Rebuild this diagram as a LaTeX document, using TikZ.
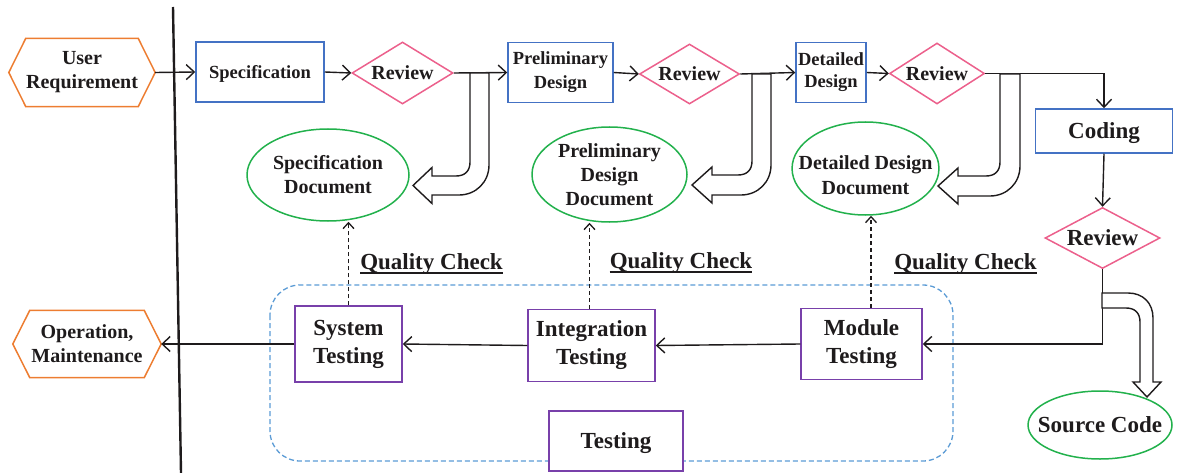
\documentclass[tikz,border=0pt]{standalone}
\usepackage{fontspec}
\setmainfont{Liberation Serif}
\usetikzlibrary{shapes.geometric,arrows.meta,calc}
\definecolor{ocol}{RGB}{237,125,49}
\definecolor{bcol}{RGB}{68,114,196}
\definecolor{pcol}{RGB}{236,96,140}
\definecolor{gcol}{RGB}{34,177,76}
\definecolor{vcol}{RGB}{120,64,170}
\definecolor{dcol}{RGB}{91,155,213}
\definecolor{txt}{RGB}{30,27,28}
\newcommand\hollowarrow[7]{% xi xo ytop yi yo xb xt
  \draw[hollow] (#1,#3) -- (#1,{#4-14}) .. controls (#1,{#4-5}) and ({#1-5},#4) .. ({#1-14},#4)
    -- (#6,#4) -- (#6,{(#4+#5)/2-18}) -- (#7,{(#4+#5)/2}) -- (#6,{(#4+#5)/2+18}) -- (#6,#5)
    -- ({#2-30},#5) .. controls ({#2-13},#5) and (#2,{#5-13}) .. (#2,{#5-30}) -- (#2,#3) -- cycle;}
\tikzset{
  fsz/.style 2 args={font=\bfseries\fontsize{#1}{#2}\selectfont},
  every node/.style={text=txt},
  oneline/.style={text depth=0pt},
  procbox/.style={rectangle, draw=bcol, line width=1.5pt, align=center, inner sep=1pt},
  revd/.style={diamond, draw=pcol, line width=1.5pt, aspect=1.6, inner sep=0pt, fill=white, oneline},
  docell/.style={ellipse, draw=gcol, line width=1.5pt, align=center, inner xsep=-15pt, inner ysep=-6pt},
  testbox/.style={rectangle, draw=vcol, line width=1.5pt, fill=white, align=center, inner sep=1pt},
  hexn/.style={align=center, inner sep=0pt},
  hexline/.style={draw=ocol, line width=1.5pt},
  flow/.style={draw=txt, line width=1.4pt, -{Straight Barb[length=8pt,width=15pt,line width=1.4pt]}},
  qflow/.style={draw=txt, line width=1.3pt, dash pattern=on 4pt off 3pt, -{Straight Barb[length=6pt,width=11pt,line width=1.3pt]}},
  hollow/.style={draw=txt, line width=1.4pt, fill=white, line join=miter},
  qc/.style={fsz={23}{27}, inner sep=0pt, anchor=base},
}
\begin{document}
\begin{tikzpicture}[x=1pt,y=-1pt]
\useasboundingbox (0,0) rectangle (1177,473);
% divider
\coordinate (dtop) at (173,7);
\coordinate (dbot) at (181,473);
\draw[line width=2.4pt, draw=txt] (dtop) -- (dbot);
% testing group
\draw[draw=dcol, line width=1.3pt, dash pattern=on 5pt off 3pt, rounded corners=30pt] (270,285) rectangle (953,461);
% top row
\node[hexn, fsz={20}{24}, minimum width=146pt, minimum height=68pt] (ur) at (82,72.5) {User\\Requirement};
\draw[hexline] (ur.west) -- ([xshift=17pt]ur.north west) -- ([xshift=-17pt]ur.north east) -- (ur.east)
  -- ([xshift=-17pt]ur.south east) -- ([xshift=17pt]ur.south west) -- cycle;
\node[procbox, oneline, fsz={18.5}{23}, minimum width=128pt, minimum height=60pt] (spec) at (260,72) {Specification};
\node[revd, fsz={20}{24}, minimum width=101pt, minimum height=62pt] (r1) at (402.5,73) {Review};
\node[procbox, fsz={18.5}{24}, minimum width=105pt, minimum height=60pt] (pd) at (560.5,72.5) {Preliminary\\Design};
\node[revd, fsz={20}{24}, minimum width=100pt, minimum height=60pt] (r2) at (689.5,74) {Review};
\node[procbox, fsz={18.5}{22}, minimum width=70pt, minimum height=60pt] (dd) at (831,72.5) {Detailed\\Design};
\node[revd, fsz={20}{24}, minimum width=95pt, minimum height=61pt] (r3) at (937,73.5) {Review};
\node[procbox, oneline, fsz={23}{27}, minimum width=137pt, minimum height=44pt] (coding) at (1104,131) {Coding};
\node[revd, fsz={23}{27}, minimum width=115pt, minimum height=61pt] (r4) at (1102.5,238) {Review};
% documents
\node[docell, fsz={20}{24}, minimum width=162pt, minimum height=92pt] (sdoc) at (328,175) {Specification\\Document};
\node[docell, fsz={20}{24}, minimum width=155pt, minimum height=95pt] (pdoc) at (609.5,174.5) {Preliminary\\Design\\Document};
\node[ellipse, draw=gcol, line width=1.5pt, inner xsep=-15pt, inner ysep=-6pt, fsz={20}{25}, minimum width=145pt, minimum height=93pt] (ddoc) at (865.5,168.5)
  {\raisebox{-9pt}[\height][\depth]{\begin{tabular}{@{}c@{}}Detailed Design\\Document\end{tabular}}};
\node[docell, oneline, fsz={23}{27}, minimum width=144pt, minimum height=68pt] (src) at (1100,425) {Source Code};
% testing
\node[testbox, fsz={23}{28}, minimum width=107pt, minimum height=76pt] (sys) at (348.5,344) {System\\Testing};
\node[testbox, fsz={23}{28}, minimum width=127pt, minimum height=72pt] (integ) at (591.5,345.5) {Integration\\Testing};
\node[testbox, fsz={23}{28}, minimum width=121pt, minimum height=71pt] (mod) at (861.5,344) {Module\\Testing};
\node[testbox, oneline, fsz={23}{28}, minimum width=134pt, minimum height=60pt] (test) at (616,441) {Testing};
\node[hexn, fsz={20}{24}, minimum width=148pt, minimum height=67pt] (om) at (87,344) {Operation,\\Maintenance};
\draw[hexline] (om.west) -- ([xshift=17pt]om.north west) -- ([xshift=-17pt]om.north east) -- (om.east)
  -- ([xshift=-17pt]om.south east) -- ([xshift=17pt]om.south west) -- cycle;
% quality check labels
\node[qc] (q1) at (431.5,269) {Quality Check};
\node[qc] (q2) at (681,268) {Quality Check};
\node[qc] (q3) at (965.5,269) {Quality Check};
\foreach \q in {q1,q2,q3}
  \draw[draw=txt, line width=1.8pt] ([yshift=-4pt]\q.base west) -- ([yshift=-4pt]\q.base east);
% flow arrows
\draw[flow] (ur.east) -- (spec.west);
\draw[flow] (spec.east) -- (r1.west);
\draw[flow] (r1.east) -- (pd.west);
\draw[flow] (pd.east) -- (r2.west);
\draw[flow] (r2.east) -- (dd.west);
\draw[flow] (dd.east) -- (r3.west);
\draw[flow] (r3.east) -| (coding.north);
\draw[flow] (coding.south) -- (r4.north);
\draw[flow] (r4.south) |- (mod.east);
\draw[flow] (mod.west) -- (integ.east);
\draw[flow] (integ.west) -- (sys.east);
\draw[flow] (sys.west) -- (om.east);
% quality check arrows
\draw[qflow] (sys.north) -- (sys.north |- sdoc.south);
\draw[qflow] ([xshift=-2pt]integ.north) -- ([xshift=-2pt]integ.north |- pdoc.south);
\draw[qflow] ([xshift=9.5pt]mod.north) -- ([xshift=9.5pt]mod.north |- ddoc.south);
% hollow arrows
\hollowarrow{470}{489}{73}{176}{195}{432}{413}
\hollowarrow{752}{771}{74}{175}{195}{712}{692}
\hollowarrow{1000}{1020}{74}{176}{196}{958}{938}
\draw[hollow] (1102,293) -- (1128,293) .. controls (1143,293) and (1153,303) .. (1153,318) -- (1153,382)
  -- (1161,382) -- (1147,397) -- (1133,382) -- (1140,382) -- (1140,322)
  .. controls (1140,313) and (1135,308) .. (1126,308) -- (1102,308) -- cycle;
\end{tikzpicture}
\end{document}
